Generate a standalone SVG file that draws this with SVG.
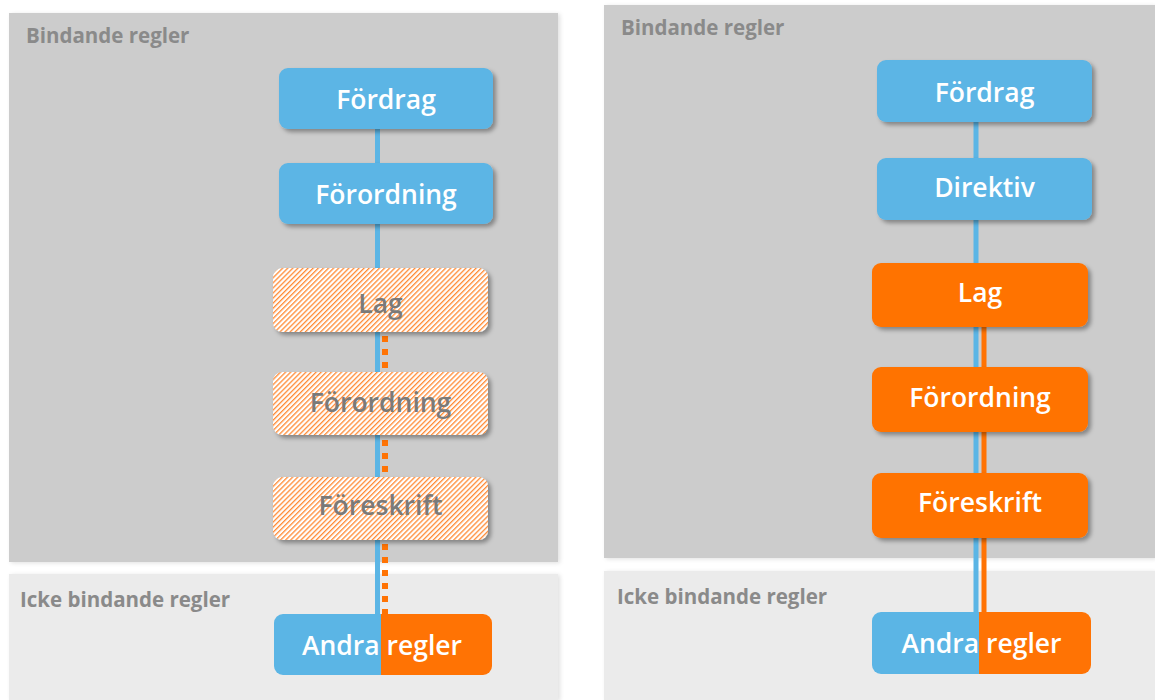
<svg xmlns="http://www.w3.org/2000/svg" width="1155" height="700" viewBox="0 0 1155 700">
<style>
.title{font-family:"Open Sans","Liberation Sans",sans-serif;font-weight:700;font-size:20.5px;fill:#8a8a8a}
.nt{font-family:"Open Sans","Liberation Sans",sans-serif;font-weight:600;font-size:26.5px;fill:#ffffff;text-anchor:middle}
.ht{font-family:"Open Sans","Liberation Sans",sans-serif;font-weight:600;font-size:26.5px;fill:#7a7a7a;text-anchor:middle}
.blue{fill:#5bb5e5}
.orange{fill:#ff7304}
.hatch{fill:url(#hatch)}
.gray{fill:#cccccc}
.light{fill:#ebebeb}
</style>
<defs>
<filter id="sh" x="-10%" y="-20%" width="125%" height="150%">
<feDropShadow dx="3" dy="3" stdDeviation="2" flood-color="#000" flood-opacity="0.35"/>
</filter>
<filter id="psh" x="-5%" y="-5%" width="110%" height="110%">
<feDropShadow dx="2" dy="1" stdDeviation="2" flood-color="#000" flood-opacity="0.12"/>
</filter>
<pattern id="hatch" patternUnits="userSpaceOnUse" width="3.6" height="3.6" patternTransform="rotate(45)">
<rect width="3.6" height="3.6" fill="#ffffff"/>
<rect width="1.3" height="3.6" fill="#ff8a33"/>
</pattern>
<clipPath id="clipL"><rect x="274" y="614" width="218" height="61" rx="9"/></clipPath>
<clipPath id="clipR"><rect x="872" y="612" width="219" height="62" rx="9"/></clipPath>
</defs>
<rect width="1155" height="700" fill="#ffffff"/>
<g id="panels">
<rect class="gray" x="9" y="13" width="549" height="549" filter="url(#psh)"/>
<rect class="light" x="9" y="574" width="549" height="126" filter="url(#psh)"/>
<rect class="gray" x="604" y="5" width="551" height="553" filter="url(#psh)"/>
<rect class="light" x="604" y="571" width="551" height="129" filter="url(#psh)"/>
<text class="title" x="26" y="43">Bindande regler</text>
<text class="title" x="20" y="607">Icke bindande regler</text>
<text class="title" x="621" y="35">Bindande regler</text>
<text class="title" x="617" y="604">Icke bindande regler</text>
</g>
<g id="connectors">
<rect class="blue" x="375" y="129" width="5" height="486"/>
<line x1="385" y1="336" x2="385" y2="614" stroke="#ff7304" stroke-width="6" stroke-dasharray="6 7"/>
<rect class="blue" x="973.5" y="122" width="5" height="491"/>
<rect class="orange" x="981.5" y="327" width="5" height="286"/>
</g>
<g id="left-fordrag"><rect class="blue" x="279" y="68" width="214" height="61" rx="9" filter="url(#sh)"/><text class="nt" x="386" y="109">Fördrag</text></g>
<g id="left-forordning-eu"><rect class="blue" x="279" y="163" width="214" height="61" rx="9" filter="url(#sh)"/><text class="nt" x="386" y="204">Förordning</text></g>
<g id="left-lag"><rect class="hatch" x="273" y="268" width="215" height="64" rx="9" filter="url(#sh)"/><text class="ht" x="380.5" y="313">Lag</text></g>
<g id="left-forordning"><rect class="hatch" x="273" y="372" width="215" height="63" rx="9" filter="url(#sh)"/><text class="ht" x="380.5" y="412">Förordning</text></g>
<g id="left-foreskrift"><rect class="hatch" x="273" y="477" width="215" height="63" rx="9" filter="url(#sh)"/><text class="ht" x="380.5" y="515">Föreskrift</text></g>
<g id="left-andra"><g clip-path="url(#clipL)"><rect class="blue" x="274" y="614" width="107" height="61"/><rect class="orange" x="381" y="614" width="111" height="61"/></g><text class="nt" x="382" y="655">Andra regler</text></g>
<g id="right-fordrag"><rect class="blue" x="877" y="60" width="215" height="62" rx="9" filter="url(#sh)"/><text class="nt" x="984.5" y="102">Fördrag</text></g>
<g id="right-direktiv"><rect class="blue" x="877" y="158" width="215" height="62" rx="9" filter="url(#sh)"/><text class="nt" x="984.5" y="197">Direktiv</text></g>
<g id="right-lag"><rect class="orange" x="872" y="263" width="216" height="64" rx="9" filter="url(#sh)"/><text class="nt" x="980" y="302">Lag</text></g>
<g id="right-forordning"><rect class="orange" x="872" y="367" width="216" height="65" rx="9" filter="url(#sh)"/><text class="nt" x="980" y="407">Förordning</text></g>
<g id="right-foreskrift"><rect class="orange" x="872" y="473" width="216" height="65" rx="9" filter="url(#sh)"/><text class="nt" x="980" y="512">Föreskrift</text></g>
<g id="right-andra"><g clip-path="url(#clipR)"><rect class="blue" x="872" y="612" width="107" height="62"/><rect class="orange" x="979" y="612" width="112" height="62"/></g><text class="nt" x="981.5" y="653">Andra regler</text></g>
</svg>
